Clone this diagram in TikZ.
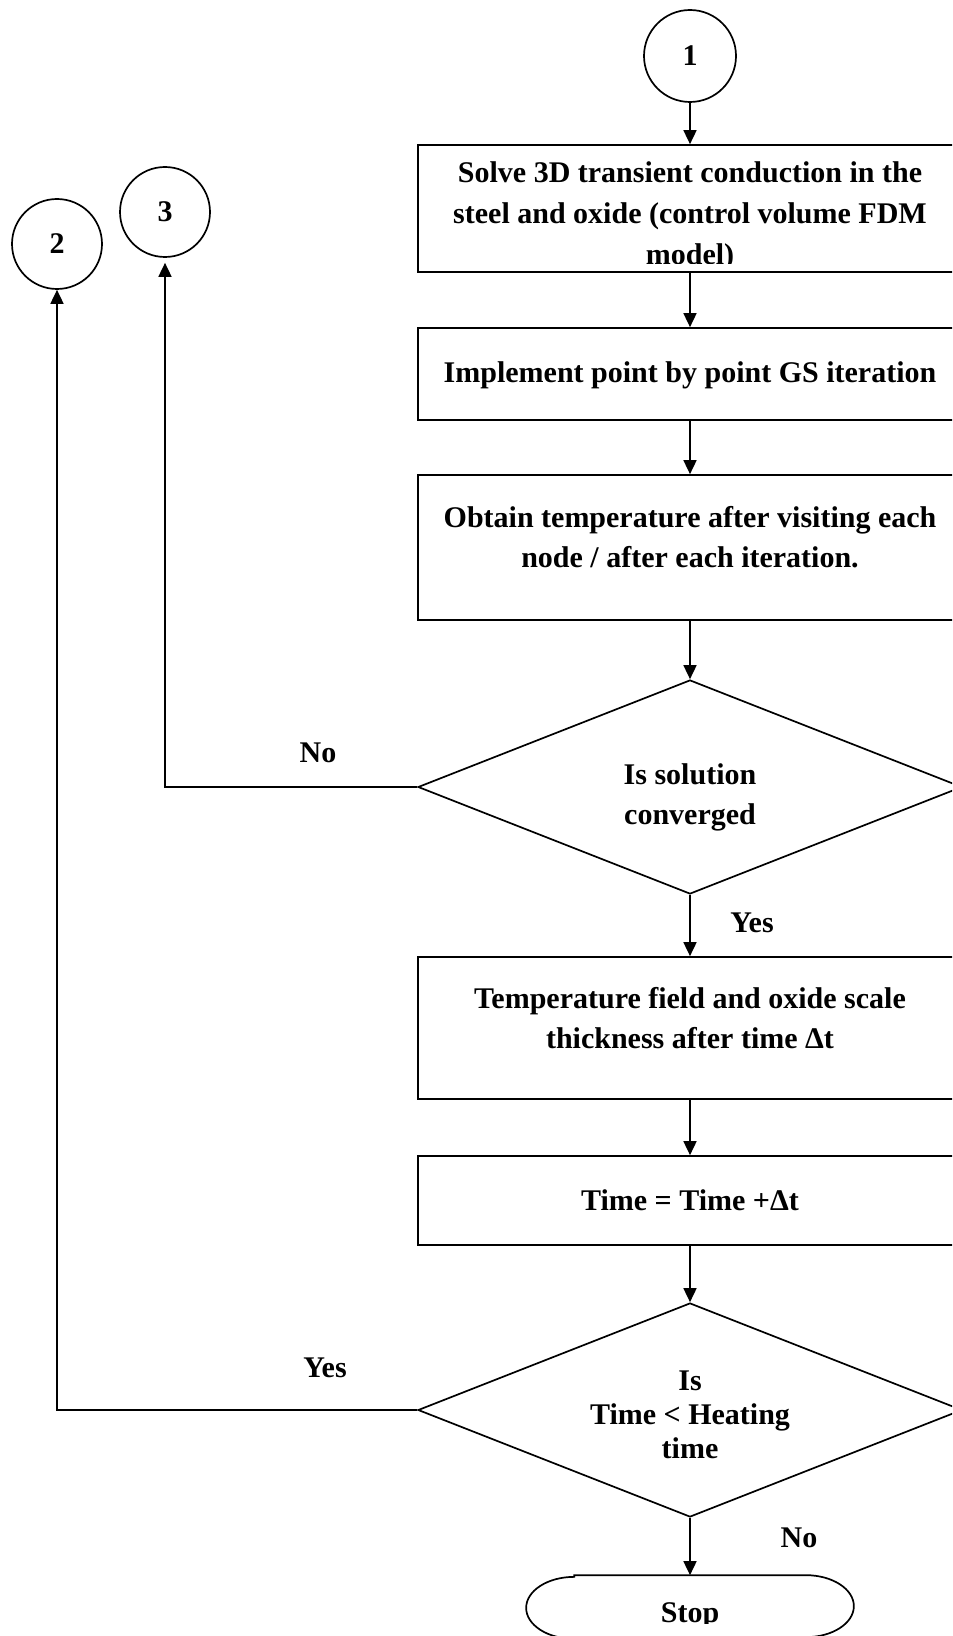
\documentclass[tikz,border=0pt]{standalone}
\usepackage{fontspec}
\setmainfont{Liberation Serif}
\usetikzlibrary{shapes.geometric, arrows.meta}
\begin{document}
\begin{tikzpicture}[x=0.5pt,y=-0.5pt, line width=0.85pt,
  box/.style={draw, rectangle, minimum width=272pt, inner sep=0pt},
  dec/.style={draw, diamond, aspect=2.54, minimum width=272pt, minimum height=107pt, inner sep=0pt},
  conn/.style={draw, circle, minimum size=45pt, inner sep=0pt, font=\fontsize{15pt}{20pt}\bfseries\selectfont},
  txt/.style={anchor=base, inner sep=0pt, font=\fontsize{15pt}{20pt}\bfseries\selectfont},
  arr/.style={-{Triangle[length=7pt,width=6.5pt]}},
]
\useasboundingbox (0,0) rectangle (952,1636);
\clip (0,0) rectangle (952,1636);

% connectors (circles)
\node[conn, minimum size=46pt] (c1) at (690,56) {1};
\node[conn] (c2) at (57,244) {2};
\node[conn] (c3) at (165,212) {3};

% box 1
\node[box, minimum height=63.5pt] (b1) at (690,208.5) {};
\begin{scope}
\clip (418,140) rectangle (962,263.5);
\node[txt] (t1a) at (690,183) {Solve 3D transient conduction in the};
\node[txt] (t1b) at (690,224) {steel and oxide (control volume FDM};
\node[txt] (t1c) at (690,265) {model)};
\end{scope}

% box 2
\node[box, minimum height=46pt] (b2) at (690,374) {};
\node[txt] (t2) at (690,383) {Implement point by point GS iteration};

% box 3
\node[box, minimum height=72.5pt] (b3) at (690,547.5) {};
\node[txt] (t3a) at (690,527) {Obtain temperature after visiting each};
\node[txt] (t3b) at (690,567) {node / after each iteration.};

% decision 1
\node[dec] (d1) at (690,787) {};
\node[txt] (t4a) at (690,784) {Is solution};
\node[txt] (t4b) at (690,824) {converged};

% box 4
\node[box, minimum height=71pt] (b4) at (690,1028) {};
\node[txt] (t5a) at (690,1008) {Temperature field and oxide scale};
\node[txt] (t5b) at (690,1048) {thickness after time Δt};

% box 5
\node[box, minimum height=44.5pt] (b5) at (690,1200.5) {};
\node[txt] (t6) at (690,1210) {Time = Time +Δt};

% decision 2
\node[dec] (d2) at (690,1410) {};
\node[txt] (t7a) at (690,1390) {Is};
\node[txt] (t7b) at (690,1424) {Time < Heating};
\node[txt] (t7c) at (690,1458) {time};

% stop
\node[minimum width=163pt, minimum height=31pt, inner sep=0pt] (stop) at (690,1607) {};
\draw ([xshift=24pt]stop.north west) -- ([xshift=-24pt]stop.north east)
  arc[start angle=90, end angle=-90, x radius=24pt, y radius=15.5pt]
  -- ([xshift=24pt]stop.south west)
  arc[start angle=270, end angle=90, x radius=24pt, y radius=15.5pt] -- cycle;
\begin{scope}
\clip (500,1570) rectangle (880,1623);
\node[txt] (t8) at (690,1622) {Stop};
\end{scope}

% labels
\node[txt] (lno1) at (318,762) {No};
\node[txt] (lyes1) at (752,932) {Yes};
\node[txt] (lyes2) at (325,1377) {Yes};
\node[txt] (lno2) at (799,1547) {No};

% arrows
\draw[arr] (c1) -- (b1);
\draw[arr] (b1) -- (b2);
\draw[arr] (b2) -- (b3);
\draw[arr] (b3) -- (d1);
\draw[arr] (d1) -- (b4);
\draw[arr] (b4) -- (b5);
\draw[arr] (b5) -- (d2);
\draw[arr] (d2) -- (stop);
\draw[arr, shorten >=2.5pt] (d1.west) -| (c3);
\draw[arr] (d2.west) -| (c2);
\end{tikzpicture}
\end{document}
